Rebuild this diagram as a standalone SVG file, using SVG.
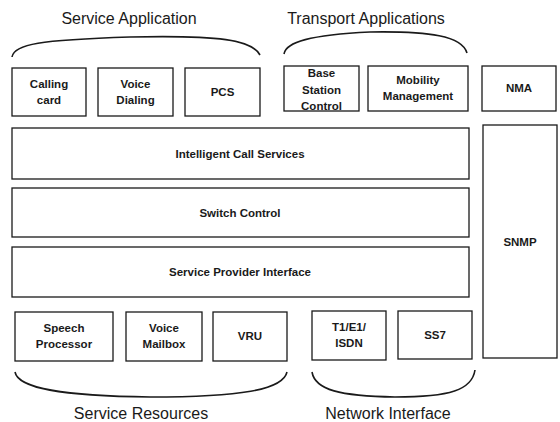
<svg xmlns="http://www.w3.org/2000/svg" width="560" height="422" viewBox="0 0 560 422">
<style>
.b{fill:#fff;stroke:#1a1a1a;stroke-width:1.3}
.t{font-family:"Liberation Sans",Arial,sans-serif;font-size:11.5px;font-weight:bold;fill:#1a1a1a;text-anchor:middle}
.h{font-family:"Liberation Sans",Arial,sans-serif;font-size:16px;fill:#1a1a1a;text-anchor:middle}
.a{fill:none;stroke:#1a1a1a;stroke-width:1.6}
</style>
<rect width="560" height="422" fill="#fff"/>
<g id="connectors">
<path class="a" d="M12,57 C14,44 40,40 130,37 C220,35 252,40 260,55"/>
<path class="a" d="M284,54 C286,42 310,35 370,32 C430,31 462,36 467,53"/>
<path class="a" d="M15,372 C18,388 60,396 150,397 C240,397 283,390 287,372"/>
<path class="a" d="M312,372 C315,390 340,396 395,397 C450,397 472,390 475,370"/>
</g>
<g id="title-service-application"><text class="h" x="129" y="24">Service Application</text></g>
<g id="title-transport-applications"><text class="h" x="366" y="24">Transport Applications</text></g>
<g id="title-service-resources"><text class="h" x="141" y="419">Service Resources</text></g>
<g id="title-network-interface"><text class="h" x="388" y="419">Network Interface</text></g>
<g id="calling-card"><rect class="b" x="12" y="68" width="74" height="48"/><text class="t" x="49" y="88">Calling</text><text class="t" x="49" y="104">card</text></g>
<g id="voice-dialing"><rect class="b" x="98" y="68" width="75" height="48"/><text class="t" x="135.5" y="88">Voice</text><text class="t" x="135.5" y="104">Dialing</text></g>
<g id="pcs"><rect class="b" x="185" y="68" width="75" height="48"/><text class="t" x="222.5" y="96">PCS</text></g>
<g id="base-station-control"><rect class="b" x="284" y="66" width="75" height="45"/><text class="t" x="321.5" y="77">Base</text><text class="t" x="321.5" y="94">Station</text><text class="t" x="321.5" y="110">Control</text></g>
<g id="mobility-management"><rect class="b" x="368" y="66" width="100" height="45"/><text class="t" x="418" y="84">Mobility</text><text class="t" x="418" y="100">Management</text></g>
<g id="nma"><rect class="b" x="482" y="66" width="74" height="45"/><text class="t" x="519" y="92">NMA</text></g>
<g id="intelligent-call-services"><rect class="b" x="12" y="128" width="457" height="51"/><text class="t" x="240" y="158">Intelligent Call Services</text></g>
<g id="switch-control"><rect class="b" x="12" y="188" width="457" height="49"/><text class="t" x="240" y="217">Switch Control</text></g>
<g id="service-provider-interface"><rect class="b" x="12" y="247" width="457" height="50"/><text class="t" x="240" y="276">Service Provider Interface</text></g>
<g id="snmp"><rect class="b" x="483" y="125" width="74" height="233"/><text class="t" x="520" y="246">SNMP</text></g>
<g id="speech-processor"><rect class="b" x="15" y="312" width="98" height="49"/><text class="t" x="64" y="332">Speech</text><text class="t" x="64" y="348">Processor</text></g>
<g id="voice-mailbox"><rect class="b" x="126" y="312" width="76" height="49"/><text class="t" x="164" y="332">Voice</text><text class="t" x="164" y="348">Mailbox</text></g>
<g id="vru"><rect class="b" x="213" y="312" width="74" height="49"/><text class="t" x="250" y="340">VRU</text></g>
<g id="t1-e1-isdn"><rect class="b" x="312" y="311" width="74" height="49"/><text class="t" x="349" y="331">T1/E1/</text><text class="t" x="349" y="347">ISDN</text></g>
<g id="ss7"><rect class="b" x="398" y="311" width="74" height="48"/><text class="t" x="435" y="339">SS7</text></g>
</svg>
